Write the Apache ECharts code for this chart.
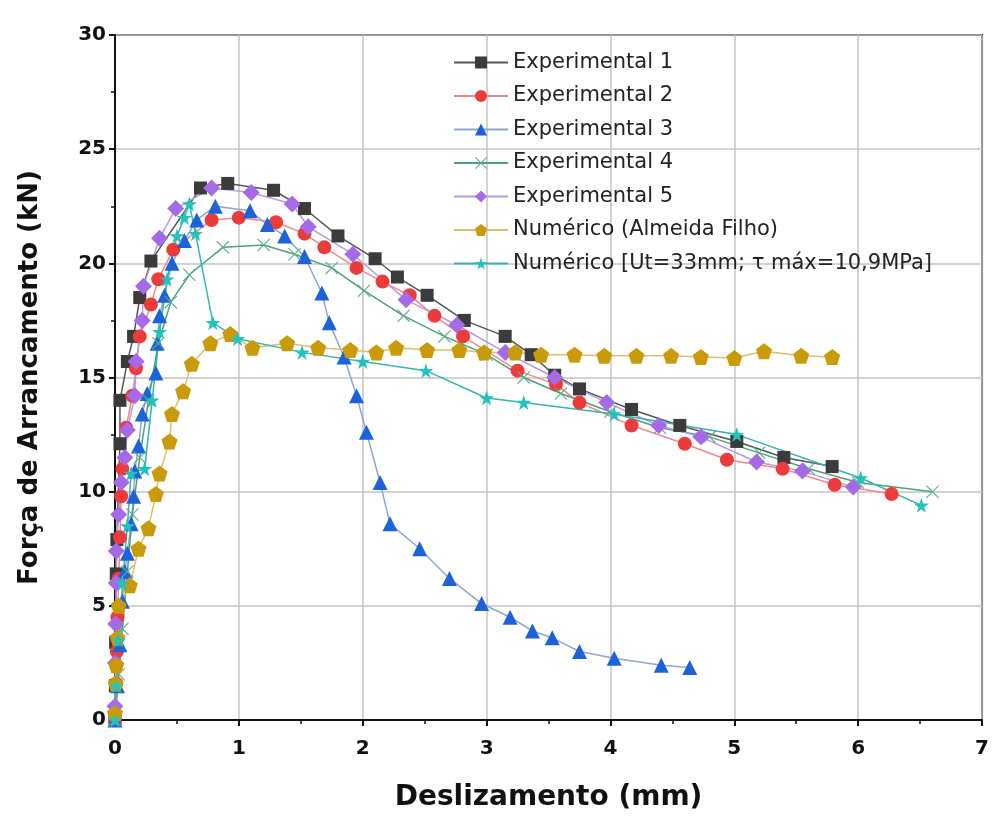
<!DOCTYPE html>
<html>
<head>
<meta charset="utf-8">
<script src="https://cdn.jsdelivr.net/npm/echarts@6/dist/echarts.min.js"></script>
<style>
  html, body { margin: 0; padding: 0; background: #fff; }
  #chart { width: 992px; height: 831px; }
</style>
</head>
<body>
<div id="chart"></div>
<script>
// [deslizamento (mm), força (kN)]
const exp1 = [[0,0],[0.003,1.5],[0.005,3.4],[0.01,6.4],[0.015,7.9],[0.04,12.1],[0.04,14.0],[0.1,15.7],[0.15,16.8],[0.2,18.5],[0.29,20.1],[0.69,23.3],[0.91,23.5],[1.28,23.2],[1.53,22.4],[1.8,21.2],[2.1,20.2],[2.28,19.4],[2.52,18.6],[2.82,17.5],[3.15,16.8],[3.36,16.0],[3.55,15.1],[3.75,14.5],[4.17,13.6],[4.56,12.9],[5.02,12.2],[5.4,11.5],[5.79,11.1]];
const exp2 = [[0,0],[0.01,1.6],[0.015,3],[0.02,4.5],[0.03,6.2],[0.04,8],[0.05,9.8],[0.06,11],[0.09,12.8],[0.14,14.2],[0.17,15.4],[0.2,16.8],[0.29,18.2],[0.35,19.3],[0.47,20.6],[0.78,21.9],[1.0,22.0],[1.3,21.8],[1.53,21.3],[1.69,20.7],[1.95,19.8],[2.16,19.2],[2.38,18.6],[2.58,17.7],[2.81,16.8],[3.25,15.3],[3.56,14.7],[3.75,13.9],[4.17,12.9],[4.6,12.1],[4.94,11.4],[5.39,11.0],[5.81,10.3],[6.27,9.9]];
const exp3 = [[0,0],[0.02,1.5],[0.04,3.3],[0.06,5.2],[0.08,6.5],[0.1,7.3],[0.13,8.6],[0.15,9.8],[0.16,10.9],[0.19,12.0],[0.22,13.4],[0.26,14.3],[0.33,15.2],[0.34,16.5],[0.36,17.7],[0.4,18.6],[0.46,20.0],[0.56,21.0],[0.66,21.9],[0.81,22.5],[1.09,22.3],[1.23,21.7],[1.37,21.2],[1.53,20.3],[1.67,18.7],[1.73,17.4],[1.85,15.9],[1.95,14.2],[2.03,12.6],[2.14,10.4],[2.22,8.6],[2.46,7.5],[2.7,6.2],[2.96,5.1],[3.19,4.5],[3.37,3.9],[3.53,3.6],[3.75,3.0],[4.03,2.7],[4.41,2.4],[4.64,2.3]];
const exp4 = [[0,0],[0.03,2],[0.06,4],[0.1,6.5],[0.14,9],[0.2,11.5],[0.27,14],[0.35,16.5],[0.45,18.3],[0.6,19.5],[0.87,20.7],[1.2,20.8],[1.45,20.4],[1.75,19.8],[2.01,18.8],[2.33,17.7],[2.66,16.8],[3.0,16.0],[3.3,15.0],[3.6,14.3],[4.0,13.5],[4.4,12.8],[4.8,12.4],[5.2,11.7],[5.6,11.0],[6.0,10.4],[6.6,10.0]];
const exp5 = [[0,0.6],[0.003,2.5],[0.005,4.2],[0.01,6.0],[0.01,7.4],[0.03,9.0],[0.05,10.4],[0.08,11.5],[0.1,12.7],[0.16,14.2],[0.17,15.7],[0.22,17.5],[0.23,19.0],[0.36,21.1],[0.49,22.4],[0.78,23.3],[1.1,23.1],[1.43,22.6],[1.56,21.6],[1.92,20.4],[2.35,18.4],[2.76,17.3],[3.15,16.1],[3.55,15.0],[3.97,13.9],[4.39,12.9],[4.73,12.4],[5.18,11.3],[5.55,10.9],[5.96,10.2]];
const almeida = [[0,0.3],[0.005,1.6],[0.01,2.4],[0.02,3.6],[0.03,5.0],[0.12,5.9],[0.19,7.5],[0.27,8.4],[0.33,9.9],[0.36,10.8],[0.44,12.2],[0.46,13.4],[0.55,14.4],[0.62,15.6],[0.77,16.5],[0.93,16.9],[1.11,16.3],[1.39,16.5],[1.64,16.3],[1.9,16.2],[2.11,16.1],[2.27,16.3],[2.52,16.2],[2.78,16.2],[2.98,16.1],[3.23,16.1],[3.44,16.0],[3.71,16.0],[3.95,15.95],[4.21,15.95],[4.49,15.95],[4.73,15.9],[5.0,15.85],[5.24,16.15],[5.54,15.95],[5.79,15.9]];
const numUt = [[0,0],[0.01,1.5],[0.03,3.5],[0.06,6],[0.1,8.5],[0.13,10.8],[0.24,11.0],[0.3,14],[0.36,17],[0.42,19.3],[0.5,21.2],[0.56,22.0],[0.6,22.6],[0.65,21.3],[0.79,17.4],[0.99,16.7],[1.51,16.1],[2.0,15.7],[2.51,15.3],[3.0,14.1],[3.3,13.9],[4.03,13.4],[5.02,12.5],[6.02,10.6],[6.51,9.4]];

const seriesNames = ["Experimental 1", "Experimental 2", "Experimental 3", "Experimental 4", "Experimental 5", "Numérico (Almeida Filho)", "Numérico [Ut=33mm; τ máx=10,9MPa]"];

const pentagon = "path://M50,0 L97.5,34.5 L79.4,90.5 L20.6,90.5 L2.5,34.5 Z";
const star = "path://M50,0 L61.8,35.4 L99,35.4 L68.9,57.3 L80.4,92.7 L50,70.8 L19.6,92.7 L31.1,57.3 L1,35.4 L38.2,35.4 Z";
const cross = "path://M0,6 L6,0 L50,44 L94,0 L100,6 L56,50 L100,94 L94,100 L50,56 L6,100 L0,94 L44,50 Z";

const font = "'DejaVu Sans', sans-serif";

function mkSeries(name, data, symbol, size, color, lineColor) {
  return {
    name: name,
    type: "line",
    data: data,
    symbol: symbol,
    symbolSize: size,
    showAllSymbol: true,
    itemStyle: { color: color },
    lineStyle: { color: lineColor, width: 1.5 },
    emphasis: { disabled: true },
    animation: false,
  };
}

const chart = echarts.init(document.getElementById("chart"));

chart.setOption({
  backgroundColor: "#fff",
  textStyle: { fontFamily: font },
  grid: {
    left: 115,
    right: 9,
    top: 35,
    bottom: 111,
    show: true,
    borderColor: "#111",
    borderWidth: 2,
  },
  legend: {
    orient: "vertical",
    left: 448,
    top: 47,
    itemWidth: 54,
    itemHeight: 15,
    itemGap: 12.5,
    textStyle: { fontFamily: font, fontSize: 21, color: "#222", lineHeight: 20 },
    data: seriesNames,
  },
  xAxis: {
    type: "value",
    min: 0,
    max: 7,
    interval: 1,
    name: "Deslizamento (mm)",
    nameLocation: "middle",
    nameGap: 64,
    nameTextStyle: { fontFamily: font, fontSize: 28, fontWeight: "bold", color: "#111" },
    axisLine: { show: true, lineStyle: { color: "#111", width: 2 } },
    axisTick: { show: true, length: 6, lineStyle: { color: "#111", width: 2 } },
    minorTick: { show: true, splitNumber: 2, length: 4, lineStyle: { color: "#111", width: 1.5 } },
    axisLabel: { fontFamily: font, fontSize: 20, fontWeight: "bold", color: "#111", margin: 19 },
    splitLine: { show: true, lineStyle: { color: "#c4c4c4", width: 1.5 } },
  },
  yAxis: {
    type: "value",
    min: 0,
    max: 30,
    interval: 5,
    name: "Força de Arrancamento (kN)",
    nameLocation: "middle",
    nameGap: 72,
    nameTextStyle: { fontFamily: font, fontSize: 26, fontWeight: "bold", color: "#111" },
    axisLine: { show: true, lineStyle: { color: "#111", width: 2 } },
    axisTick: { show: true, length: 6, lineStyle: { color: "#111", width: 2 } },
    minorTick: { show: true, splitNumber: 2, length: 4, lineStyle: { color: "#111", width: 1.5 } },
    axisLabel: { fontFamily: font, fontSize: 20, fontWeight: "bold", color: "#111", margin: 9 },
    splitLine: { show: true, lineStyle: { color: "#c4c4c4", width: 1.5 } },
  },
  series: [
    mkSeries(seriesNames[0], exp1, "rect", 13, "#3b3b3b", "#555555"),
    mkSeries(seriesNames[1], exp2, "circle", 14, "#ec3b3b", "#f08a8a"),
    mkSeries(seriesNames[2], exp3, "triangle", 15, "#1c62d8", "#8fa6cf"),
    mkSeries(seriesNames[3], exp4, cross, 13, "#5aae8c", "#4fa07f"),
    mkSeries(seriesNames[4], exp5, "diamond", 17, "#a66ae6", "#b89ae0"),
    mkSeries(seriesNames[5], almeida, pentagon, 16, "#c99b0a", "#dcc070"),
    mkSeries(seriesNames[6], numUt, star, 15, "#22c2bd", "#35b5b0"),
  ],
});
</script>
</body>
</html>
